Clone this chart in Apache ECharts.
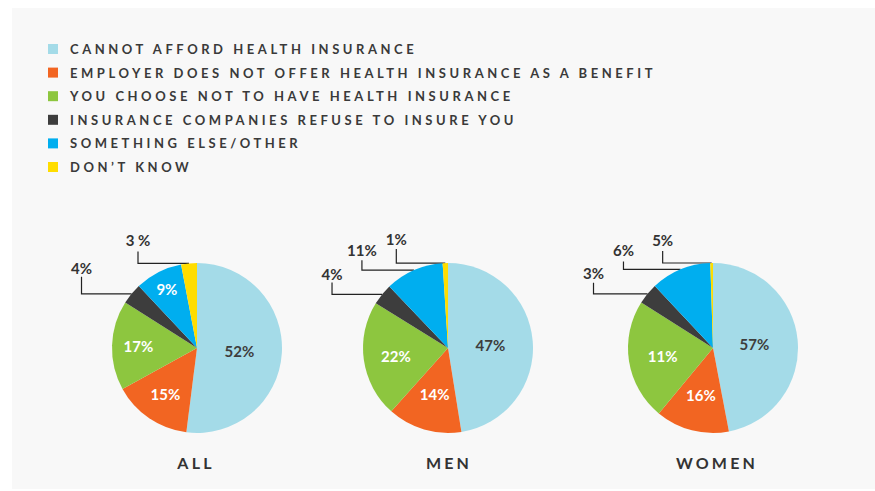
<!DOCTYPE html>
<html>
<head>
<meta charset="utf-8">
<title>Reasons for not having health insurance</title>
<script src="https://cdn.jsdelivr.net/npm/echarts@6/dist/echarts.min.js"></script>
<style>
  html, body { margin: 0; padding: 0; background: #ffffff; }
  #chart { position: absolute; left: 12px; top: 8px; width: 863px; height: 481px; background: #f8f8f8; }
  /* letter spacing for legend (13px) and group titles (16px) */
  #chart text[style*="13px"] { letter-spacing: 3.55px; }
  #chart text[style*="16px"] { letter-spacing: 3.2px; }
</style>
</head>
<body>
<div id="chart"></div>
<script>
// categories (legend order = slice order, clockwise from 12 o'clock)
const categories = [
  'CANNOT AFFORD HEALTH INSURANCE',
  'EMPLOYER DOES NOT OFFER HEALTH INSURANCE AS A BENEFIT',
  'YOU CHOOSE NOT TO HAVE HEALTH INSURANCE',
  'INSURANCE COMPANIES REFUSE TO INSURE YOU',
  'SOMETHING ELSE/OTHER',
  'DON\u2019T KNOW'
]
const groups = ['ALL', 'MEN', 'WOMEN']

// slice sizes as drawn in the picture
const allValues = [52, 15, 17, 4, 9, 3]
const menValues = [47, 14, 22, 4, 11, 1]
const womenValues = [47, 14, 23, 4, 11.5, 0.5]

// printed labels
const allLabels = ['52%', '15%', '17%', '4%', '9%', '3 %']
const menLabels = ['47%', '14%', '22%', '4%', '11%', '1%']
const womenLabels = ['57%', '16%', '11%', '3%', '6%', '5%']

const values = [allValues, menValues, womenValues]
const labels = [allLabels, menLabels, womenLabels]

const colors = ['#a4dbe8', '#f26522', '#8dc63f', '#3d3d3d', '#00aeef', '#ffdd00']

// layout
const pieCenters = [[185, 340], [436, 340], [701, 340]]
const pieRadius = 85
const titleX = [184, 437, 705]
// inside label distance (fraction of radius), 0 = outside label
const insideLabelR = [
  [0.5, 0.66, 0.69, 0, 0.78, 0],
  [0.5, 0.56, 0.62, 0, 0, 0],
  [0.49, 0.57, 0.6, 0, 0, 0]
]
// elbow leader lines: [horizontal length, vertical length, label gap]
const elbows = [
  { 3: [50, 17, 0], 5: [51, 12, 3] },
  { 3: [50, 12, 0], 4: [52, 10, 2], 5: [49, 14, 2] },
  { 3: [54, 11, 1], 4: [57, 8, 3], 5: [49, 12, 3] }
]

const chart = echarts.init(document.getElementById('chart'), null, { renderer: 'svg' })

const layoutLabel = (s) => (params) => {
  const i = params.dataIndex
  const [cx, cy] = pieCenters[s]
  const elbow = elbows[s][i]
  if (elbow && params.labelLinePoints) {
    const p0 = params.labelLinePoints[0]
    const cornerX = p0[0] - elbow[0]
    const topY = p0[1] - elbow[1]
    return {
      x: cornerX,
      y: topY - 1 - elbow[2],
      align: 'center',
      verticalAlign: 'bottom',
      labelLinePoints: [p0, [cornerX, p0[1]], [cornerX, topY]]
    }
  }
  const r = params.labelRect
  const lx = r.x + r.width / 2
  const ly = r.y + r.height / 2
  const d = Math.hypot(lx - cx, ly - cy) || 1
  const k = insideLabelR[s][i] * pieRadius / d
  return { x: cx + (lx - cx) * k, y: cy + (ly - cy) * k, align: 'center', verticalAlign: 'middle' }
}

const option = {
  animation: false,
  title: groups.map((g, s) => ({
    text: g,
    left: titleX[s],
    top: 446,
    textAlign: 'center',
    padding: 0,
    textStyle: { fontFamily: 'Lato', fontWeight: 'bold', fontSize: 16, color: '#333333' }
  })),
  legend: {
    orient: 'vertical',
    left: 36,
    top: 34,
    padding: 0,
    itemWidth: 10,
    itemHeight: 10,
    itemGap: 9.6,
    icon: 'rect',
    selectedMode: false,
    data: categories,
    textStyle: {
      fontFamily: 'Lato', fontWeight: 'bold', fontSize: 13, color: '#3a3a3a',
      lineHeight: 14, padding: [0, 0, 0, 7]
    }
  },
  series: groups.map((g, s) => ({
    name: g,
    type: 'pie',
    center: pieCenters[s],
    radius: pieRadius,
    startAngle: 90,
    clockwise: true,
    silent: true,
    avoidLabelOverlap: false,
    label: {
      formatter: (p) => labels[s][p.dataIndex],
      fontFamily: 'Lato',
      fontWeight: 'bold',
      fontSize: 15
    },
    labelLayout: layoutLabel(s),
    data: categories.map((name, i) => {
      const outside = !!elbows[s][i]
      return {
        name,
        value: values[s][i],
        itemStyle: { color: colors[i] },
        label: outside
          ? { position: 'outside', color: '#333333' }
          : { position: 'inside', color: i === 0 ? '#3d3d3d' : '#ffffff' },
        labelLine: {
          show: outside,
          length: 10,
          length2: 10,
          lineStyle: { color: '#222222', width: 1.2 }
        }
      }
    })
  }))
}

chart.setOption(option)
</script>
</body>
</html>
